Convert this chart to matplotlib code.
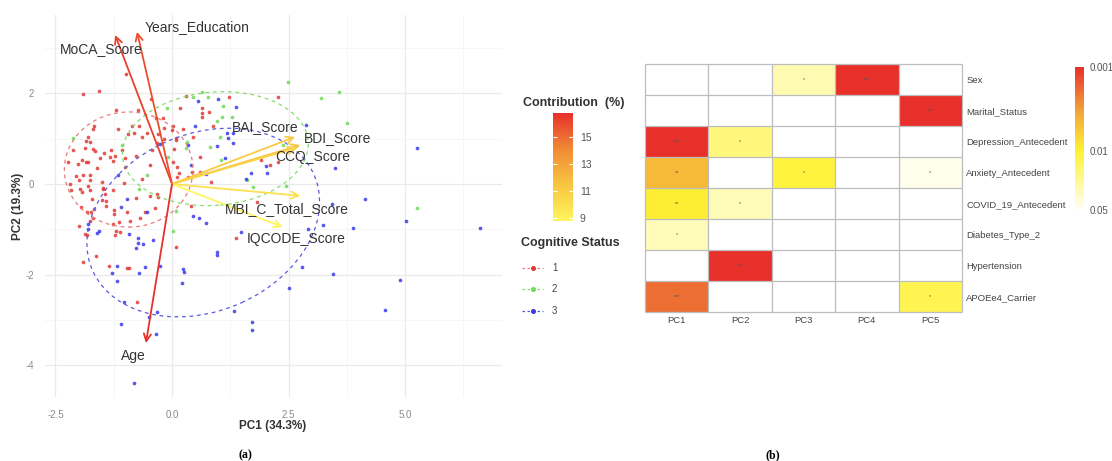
import numpy as np
import matplotlib
matplotlib.use('Agg')
import matplotlib.pyplot as plt
from matplotlib.colors import LinearSegmentedColormap, Normalize, LogNorm
from matplotlib.patches import Ellipse
from matplotlib.lines import Line2D
from matplotlib.cm import ScalarMappable

plt.rcParams['font.family'] = ['Liberation Sans', 'DejaVu Sans']

# ---------------- data: PCA biplot ----------------
red_x = [-1.90,-1.56,-1.20,-0.74,-0.45,-1.67,-1.69,-1.15,-0.85,-0.70,-0.95,-0.82,-0.65,-0.53,-0.34,
         -0.19,-0.17,-0.29,-0.17,-0.01,-1.80,-1.85,-1.76,-2.12,-1.86,-1.70,-1.65,-1.46,-1.31,-1.07,
         -1.32,-1.22,-1.55,-1.01,-2.01,-1.94,-1.85,-1.81,-1.62,-1.26,-1.01,-0.77,-0.47,-0.44,-0.33,
         -2.23,-1.90,-2.05,-1.76,-0.65,-2.19,-1.99,-1.77,-1.51,-1.03,-1.49,-1.80,
         0.30,1.23,2.28,0.17,0.64,0.80,0.65,0.64,0.02,0.24,0.87,0.09,0.44,0.08,0.04,0.59,1.92,0.02,
         0.10,0.42,0.59,0.14,0.11,0.83,2.10,0.35,
         -2.17,-1.97,-1.94,-1.77,-1.47,-1.44,-1.26,-1.72,-1.51,-1.42,-0.77,-0.33,-0.29,-0.47,-1.96,
         -1.83,-1.74,-1.67,-1.42,-1.24,-1.24,-0.96,-0.58,-0.36,-1.13,-1.27,-0.90,-0.69,-1.99,-1.77,
         -1.69,-1.20,-1.12,-1.22,-1.83,-1.87,-1.63,-1.90,-1.35,-0.97,-0.92,
         0.40,1.83,1.37,0.09,-0.76,-0.99,2.27]
red_y = [1.99,2.05,1.63,1.63,1.88,1.27,1.21,1.21,1.29,1.28,1.10,1.13,1.04,1.13,1.45,
         1.45,1.23,1.10,0.99,1.19,1.03,0.95,0.92,0.74,0.79,0.77,0.73,0.69,0.75,0.74,
         0.60,0.62,0.58,0.58,0.45,0.52,0.48,0.49,0.36,0.51,0.37,0.62,0.41,0.74,0.90,
         0.49,0.21,0.18,0.20,0.11,-0.01,0.09,0.09,0.05,0.02,-0.09,-0.04,
         1.94,1.93,1.91,1.68,1.67,1.58,1.56,1.47,1.28,1.21,1.29,1.01,1.04,0.97,0.77,0.60,0.53,0.48,
         0.38,0.26,0.26,0.24,0.16,0.05,0.42,0.16,
         -0.13,-0.11,-0.18,-0.13,-0.11,-0.21,-0.13,-0.32,-0.35,-0.37,-0.30,-0.23,-0.28,-0.26,-0.50,
         -0.62,-0.61,-0.56,-0.48,-0.57,-0.67,-0.62,-0.62,-0.52,-0.83,-0.89,-0.82,-0.76,-0.92,-0.82,
         -0.74,-1.04,-1.05,-1.13,-1.13,-1.11,-1.59,-1.73,-1.80,-1.85,-1.85,
         -0.48,-0.39,-1.20,-1.40,-2.61,2.43,0.49]
green_x = [-0.11,-2.13,-1.08,-0.08,-0.54,-0.70,0.64,0.78,1.10,1.07,1.28,0.96,1.03,0.82,0.30,
           1.05,2.39,1.74,2.49,3.19,3.59,3.75,2.44,5.25,0.09,0.03,1.60,0.45,0.32]
green_y = [1.68,1.01,0.86,0.60,0.20,-0.11,2.04,1.91,1.73,1.49,1.47,1.38,1.04,0.82,0.79,
           0.53,0.86,-0.06,2.25,1.89,2.02,1.35,-0.04,-0.54,-0.60,-1.03,0.09,1.92,0.93]
blue_x = [-0.26,-1.15,0.55,0.98,1.37,0.49,1.30,1.19,1.21,1.30,0.96,0.35,1.14,2.01,0.40,
          0.74,1.69,1.59,2.03,2.87,5.25,3.50,4.14,3.43,5.02,6.61,3.89,3.25,2.91,2.78,
          3.46,4.89,2.51,4.56,-0.96,-1.10,-0.54,-1.80,-1.60,-1.56,-0.92,-0.72,-0.74,-0.63,-0.77,
          -0.40,-1.17,-0.58,-0.26,-1.29,-0.71,-1.17,0.44,0.58,0.74,1.47,0.96,0.97,0.23,0.26,
          0.22,-1.03,-0.32,-0.49,-1.10,-0.34,1.33,1.72,1.72,-0.82,-1.80]
blue_y = [0.88,0.21,1.83,1.87,1.70,1.29,1.13,1.12,1.01,0.91,0.85,0.86,0.58,0.40,0.42,
          0.22,0.24,0.11,0.25,1.30,0.80,0.35,-0.32,-0.43,-0.81,-0.96,-0.96,-0.91,-0.99,-1.83,
          -1.99,-2.12,-2.30,-2.78,-0.34,-0.50,-0.62,-1.00,-1.08,-1.04,-1.10,-1.20,-1.31,-1.33,-1.42,
          -1.24,-1.81,-1.83,-1.81,-1.97,-1.97,-2.14,-0.70,-0.74,-0.85,-1.05,-1.49,-1.57,-1.88,-1.95,
          -2.18,-2.60,-2.82,-2.94,-3.09,-3.30,-2.80,-3.04,-3.22,-4.39,-0.88]

group_labels = ['1', '2', '3']
# concentration ellipses (center, full width/height, angle in degrees)
ell_cx = [-0.93, 0.93, 0.67]
ell_cy = [0.32, 0.78, -0.85]
ell_w = [2.76, 4.0, 5.2]
ell_h = [2.54, 2.5, 3.9]
ell_angle = [0, 5, 25]

var_names = ['MoCA_Score', 'Years_Education', 'BAI_Score', 'BDI_Score', 'CCQ_Score',
             'MBI_C_Total_Score', 'IQCODE_Score', 'Age']
load_x = [-1.22, -0.75, 2.64, 2.75, 2.68, 2.75, 2.38, -0.56]
load_y = [3.29, 3.36, 1.04, 0.86, 0.80, -0.26, -0.95, -3.51]
label_x = [-1.52, 0.53, 2.00, 3.56, 3.03, 2.46, 2.66, -0.83]
label_y = [2.98, 3.47, 1.26, 1.02, 0.59, -0.55, -1.22, -3.80]
contrib = [16.3, 15.9, 11.2, 11.6, 10.6, 10.0, 8.8, 16.8]

# ---------------- data: heatmap ----------------
hm_rows = ['Sex', 'Marital_Status', 'Depression_Antecedent', 'Anxiety_Antecedent',
           'COVID_19_Antecedent', 'Diabetes_Type_2', 'Hypertension', 'APOEe4_Carrier']
hm_cols = ['PC1', 'PC2', 'PC3', 'PC4', 'PC5']
nan = np.nan
hm_p = [[nan, nan, 0.028, 0.001, nan],
        [nan, nan, nan, nan, 0.001],
        [0.001, 0.018, nan, nan, nan],
        [0.0045, nan, 0.011, nan, 0.045],
        [0.0095, 0.030, nan, nan, nan],
        [0.030, nan, nan, nan, nan],
        [nan, 0.001, nan, nan, nan],
        [0.0019, nan, nan, nan, 0.013]]
hm_stars = [['', '', '*', '***', ''],
            ['', '', '', '', '***'],
            ['***', '*', '', '', ''],
            ['**', '', '*', '', '*'],
            ['**', '*', '', '', ''],
            ['*', '', '', '', ''],
            ['', '***', '', '', ''],
            ['***', '', '', '', '*']]

# ---------------- figure ----------------
W, H = 1112, 461
fig = plt.figure(figsize=(W / 100, H / 100), dpi=100)
def fx(px): return px / W
def fy(py): return 1 - py / H

ax = fig.add_axes([fx(45), fy(397), (502 - 45) / W, (397 - 15) / H])
ax.set_xlim(-2.725, 7.08)
ax.set_ylim(-4.70, 3.73)
for s in ax.spines.values():
    s.set_visible(False)
ax.set_xticks([-2.5, 0, 2.5, 5.0])
ax.set_xticklabels(['-2.5', '0.0', '2.5', '5.0'])
ax.set_xticks([-1.25, 1.25, 3.75, 6.25], minor=True)
ax.set_yticks([-4, -2, 0, 2])
ax.set_yticklabels(['-4', '-2', '0', '2'])
ax.set_yticks([-3, -1, 1, 3], minor=True)
ax.grid(which='major', color='#EAEAEA', lw=0.9)
ax.grid(which='minor', color='#F3F3F3', lw=0.5)
ax.set_axisbelow(True)
ax.tick_params(which='both', length=0, labelsize=7, labelcolor='#8A8A8A')
ax.tick_params(axis='x', pad=9)
ax.tick_params(axis='y', pad=8)

pt_colors = ['#E23A36', '#6FD95A', '#3B3BEA']
ell_colors = ['#E77A7A', '#86DB6A', '#5A5ADF']
groups = [(red_x, red_y), (green_x, green_y), (blue_x, blue_y)]
for (gx, gy), c in zip(groups, pt_colors):
    ax.scatter(gx, gy, s=7, color=c, alpha=0.85, linewidths=0, zorder=2)
for i in range(3):
    e = Ellipse((ell_cx[i], ell_cy[i]), ell_w[i], ell_h[i], angle=ell_angle[i],
                fill=False, edgecolor=ell_colors[i], lw=0.9, ls=(0, (3, 3)), zorder=3)
    ax.add_patch(e)

cmap_c = LinearSegmentedColormap.from_list('contrib', ['#FFF55E', '#F8C640', '#F08A36', '#E8302A'])
norm_c = Normalize(8.8, 16.8)
for name, lx, ly, tx, ty, ct in zip(var_names, load_x, load_y, label_x, label_y, contrib):
    col = cmap_c(norm_c(ct))
    ax.annotate('', xy=(lx, ly), xytext=(0, 0),
                arrowprops=dict(arrowstyle='->', color=col, lw=1.3, mutation_scale=13,
                                shrinkA=0, shrinkB=0), zorder=4)
    ax.text(tx, ty, name, fontsize=10, color='#333333', ha='center', va='center', zorder=5)

fig.text(fx(273), fy(426), 'PC1 (34.3%)', fontsize=8.5, weight='bold', color='#333333',
         ha='center', va='center')
fig.text(fx(18), fy(206), 'PC2 (19.3%)', fontsize=8.5, weight='bold', color='#333333',
         ha='center', va='center', rotation=90)

# contribution colorbar
cax1 = fig.add_axes([fx(553), fy(221), 20 / W, 108 / H])
cb1 = fig.colorbar(ScalarMappable(norm=norm_c, cmap=cmap_c), cax=cax1)
cb1.set_ticks([9, 11, 13, 15])
cb1.outline.set_visible(False)
cax1.tick_params(left=True, right=True, labelleft=False, labelright=True, direction='in',
                 length=3, width=0.8, color='white', labelcolor='#555555', labelsize=7.5, pad=5)
fig.text(fx(523), fy(103), 'Contribution  (%)', fontsize=9, weight='bold', color='#333333',
         ha='left', va='center')

# cognitive status legend
fig.text(fx(521), fy(243), 'Cognitive Status', fontsize=9, weight='bold', color='#333333',
         ha='left', va='center')
for i, lab in enumerate(group_labels):
    yy = 268 + i * 21.5
    fig.add_artist(Line2D([fx(522), fx(543)], [fy(yy), fy(yy)], color=ell_colors[i], lw=0.9,
                          ls=(0, (2, 2))))
    fig.add_artist(Line2D([fx(532.5)], [fy(yy)], marker='o', ms=2.6, color=pt_colors[i], lw=0))
    fig.text(fx(552), fy(yy), lab, fontsize=7, color='#444444', ha='left', va='center')

# ---------------- heatmap ----------------
ax2 = fig.add_axes([fx(645), fy(312), (962 - 645) / W, (312 - 64) / H])
pmat = np.ma.masked_invalid(np.array(hm_p, dtype=float))
cmap_p = LinearSegmentedColormap.from_list(
    'pv', [(0.0, '#E8302A'), (0.3, '#F2A13A'), (0.589, '#FFF233'), (1.0, '#FFFFF6')])
cmap_p.set_bad('white')
norm_p = LogNorm(vmin=0.001, vmax=0.05)
nr, nc = len(hm_rows), len(hm_cols)
mesh = ax2.pcolormesh(np.arange(nc + 1), np.arange(nr + 1), pmat, cmap=cmap_p, norm=norm_p)
ax2.set_xlim(0, nc)
ax2.set_ylim(nr, 0)
ax2.hlines(np.arange(nr + 1), 0, nc, color='#BDBDBD', lw=0.9, clip_on=False)
ax2.vlines(np.arange(nc + 1), 0, nr, color='#BDBDBD', lw=0.9, clip_on=False)
for s in ax2.spines.values():
    s.set_visible(False)
for r in range(nr):
    for c in range(nc):
        if hm_stars[r][c]:
            ax2.text(c + 0.5, r + 0.5, hm_stars[r][c], fontsize=4, color='#555555',
                     ha='center', va='center')
ax2.set_xticks(np.arange(nc) + 0.5)
ax2.set_xticklabels(hm_cols)
ax2.set_yticks(np.arange(nr) + 0.5)
ax2.set_yticklabels(hm_rows)
ax2.yaxis.tick_right()
ax2.tick_params(length=0, labelsize=6.8, labelcolor='#444444')
ax2.tick_params(axis='x', pad=3)
ax2.tick_params(axis='y', pad=3)

cax2 = fig.add_axes([fx(1075), fy(210), 9 / W, (210 - 67) / H])
cb2 = fig.colorbar(mesh, cax=cax2)
cb2.set_ticks([0.001, 0.01, 0.05])
cb2.set_ticklabels(['0.001', '0.01', '0.05'])
cb2.ax.minorticks_off()
cb2.outline.set_visible(False)
cax2.invert_yaxis()
cax2.tick_params(length=0, labelsize=7, labelcolor='#555555', pad=4)

# captions
fig.text(fx(245), fy(455), '(a)', fontsize=8.5, weight='bold', family='Liberation Serif',
         ha='center', va='center')
fig.text(fx(773), fy(455), '(b)', fontsize=8.5, weight='bold', family='Liberation Serif',
         ha='center', va='center')

fig.savefig('out.png', dpi=100)
